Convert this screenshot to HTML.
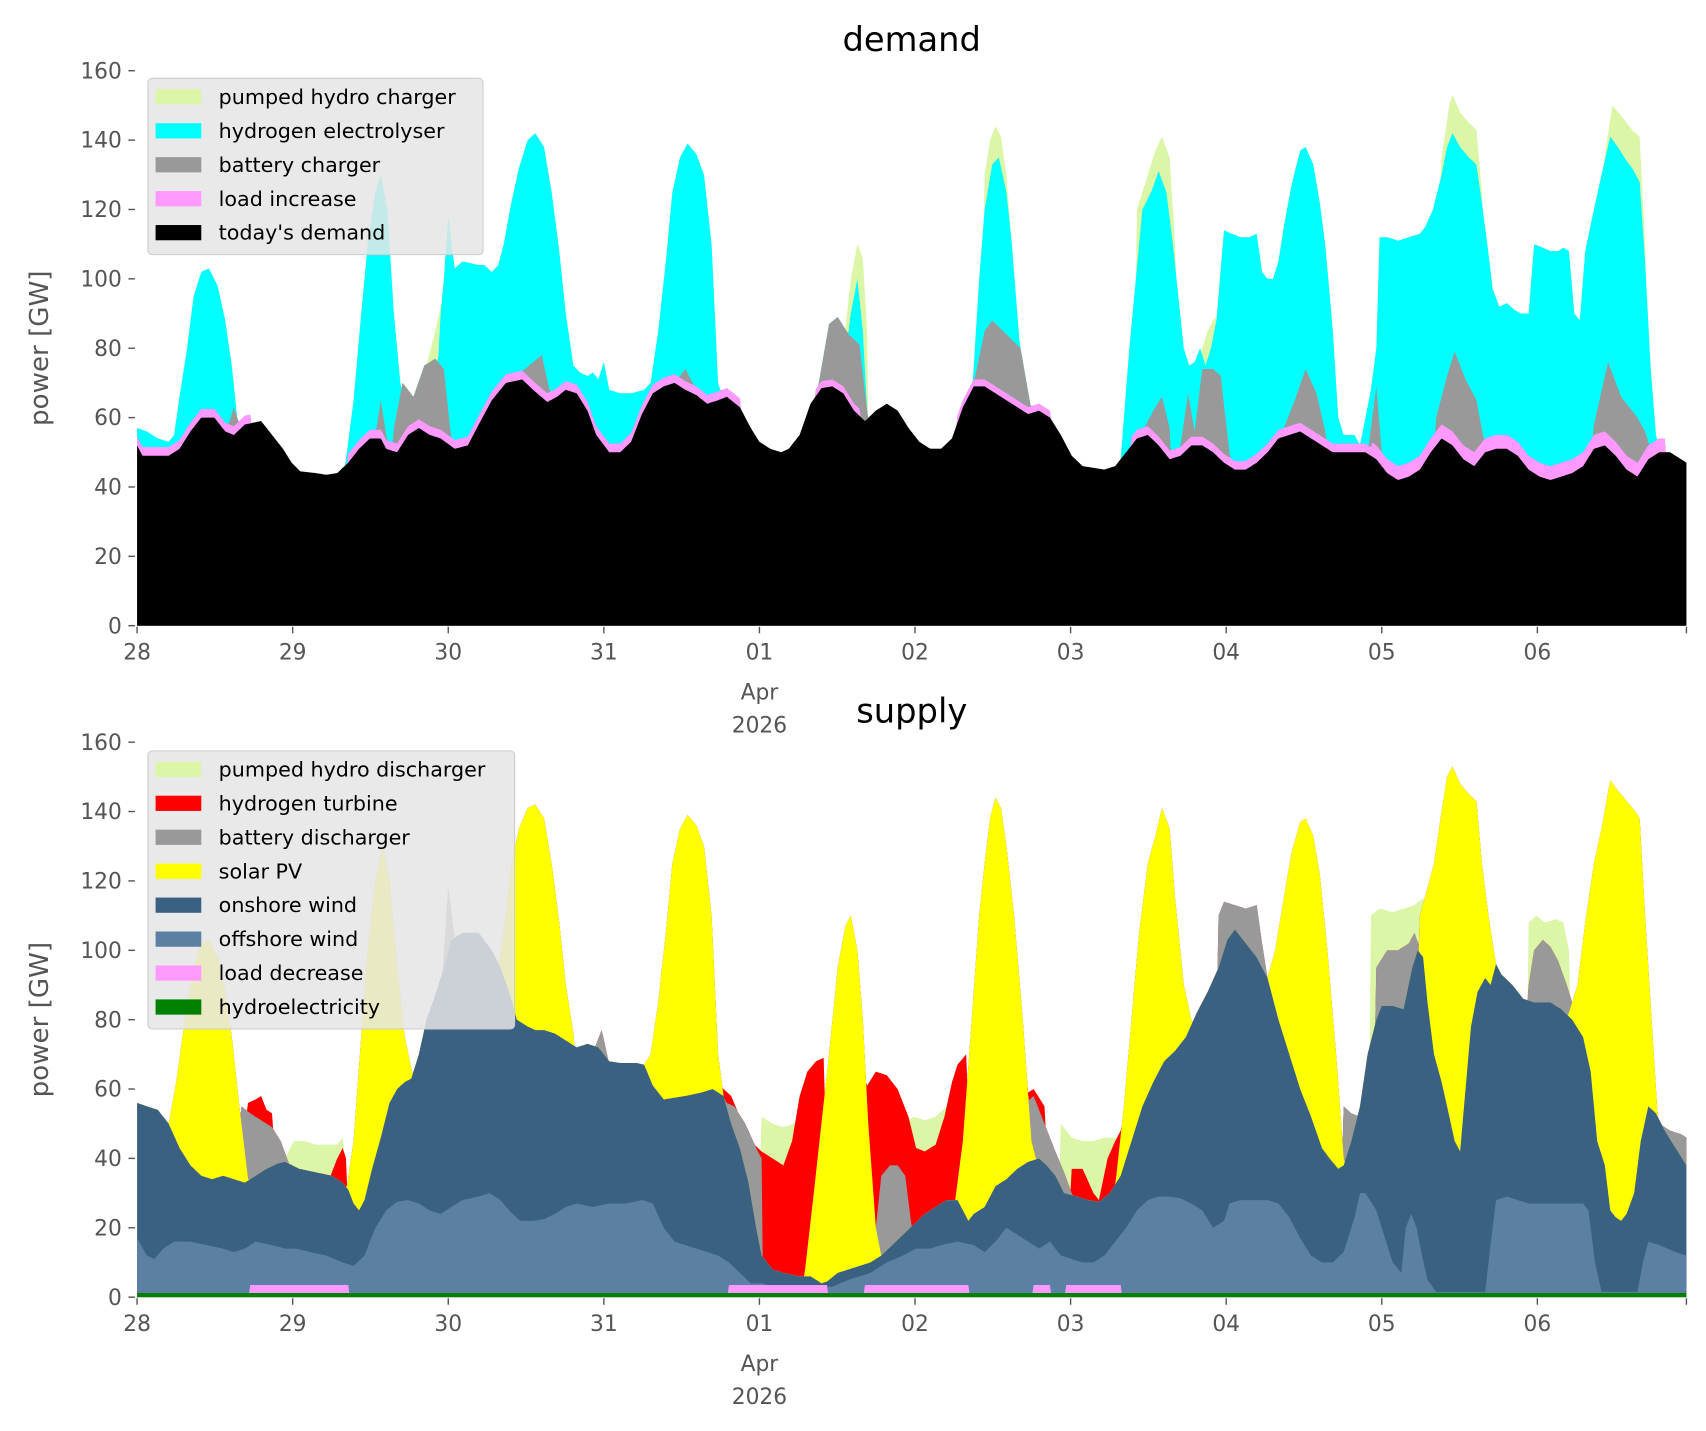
<!DOCTYPE html>
<html><head><meta charset="utf-8"><style>html,body{margin:0;padding:0;background:#fff}svg{display:block}</style></head>
<body>
<svg id="s" xmlns="http://www.w3.org/2000/svg" width="1706" height="1431" viewBox="0 0 1568 1315" preserveAspectRatio="none" font-family="'DejaVu Sans','Liberation Sans',sans-serif">
<rect width="1568" height="1315" fill="#fff"/>
<g id="g1"></g><g id="g2"></g>
<g id="ax"></g>
</svg>
<script>
const NS="http://www.w3.org/2000/svg";
function el(p,t,a,txt){const e=document.createElementNS(NS,t);for(const k in a)e.setAttribute(k,a[k]);if(txt!==undefined)e.textContent=txt;p.appendChild(e);return e;}
function interp(pts,x){if(x<=pts[0][0])return pts[0][1];for(let i=1;i<pts.length;i++){if(x<=pts[i][0]){const a=pts[i-1],b=pts[i];return a[1]+(b[1]-a[1])*(x-a[0])/(b[0]-a[0]);}}return pts[pts.length-1][1];}
function segVal(segs,x){let v=-1e9;for(const s of segs){if(x>=s[0][0]&&x<=s[s.length-1][0])v=Math.max(v,interp(s,x));}return v;}
function rng(r,x){for(const q of r){if(x>=q[0]&&x<=q[1])return q[2];}return 0;}
const X0=126,X1=1550;
function draw(g,y0,layers){ // layers: [color, fn]
 const sc=(575-65)/160;
 for(const [c,f] of layers){let d="M"+X0+","+y0;for(let x=X0;x<=X1;x++){d+=" L"+x+","+(y0-f(x)*sc).toFixed(1);}d+=" L"+X1+","+y0+" Z";el(g,"path",{d:d,fill:c});}
}
// ---------- demand ----------
const black=[[126,52],[131,49],[155,49],[165,51],[175,56],[185,60],[197,60],[207,56],[215,55],[225,58],[240,59],[250,55],[260,51],[268,47],[276,44.5],[290,44],[300,43.5],[310,44],[320,47],[330,51],[340,54],[350,54],[355,51],[365,50],[375,55],[385,57],[395,55],[405,54],[418,51],[430,52],[440,58],[452,65],[465,70],[480,71],[490,68],[503,64.5],[512,66],[520,68],[530,67],[540,62],[548,55],[560,50],[570,50],[580,53],[590,61],[600,67],[610,69],[620,70],[630,68],[640,66.5],[650,64],[660,65],[668,66],[680,63],[690,57],[698,53],[708,51],[718,50],[725,51],[735,55],[745,64],[755,68.5],[765,69],[775,67],[785,62],[795,59],[805,62],[815,64],[825,62],[835,57],[845,53],[855,51],[865,51],[875,54],[885,63],[895,69],[905,69],[915,67],[925,65],[935,63],[945,61],[955,62],[965,60],[975,55],[985,49],[995,46],[1005,45.5],[1015,45],[1025,46],[1035,50],[1045,54],[1055,55],[1065,52],[1075,48],[1085,49],[1095,52],[1105,52],[1115,50],[1125,47],[1135,45],[1145,45],[1155,47],[1165,50],[1175,54],[1185,55],[1195,56],[1205,54],[1215,52],[1225,50],[1235,50],[1245,50],[1255,50],[1265,48],[1275,44],[1285,42],[1295,43],[1305,45],[1315,50],[1325,54],[1335,52],[1345,48],[1355,46],[1365,50],[1375,51],[1385,51],[1395,49],[1405,45],[1415,43],[1425,42],[1435,43],[1445,44],[1455,46],[1465,51],[1475,52],[1485,49],[1495,45],[1505,43],[1515,48],[1525,50],[1535,50],[1545,48],[1550,47]];
const pinkR=[[126,230,2.5],[320,680,2.5],[750,790,2],[880,965,2],[1040,1260,2.5],[1260,1530,4]];
const graySegs=[[[208,56],[215,63],[222,56]],[[345,55],[350,65],[356,53]],[[362,57],[370,70],[380,66],[390,75],[400,77],[408,74],[415,53]],[[475,72],[490,76],[498,78],[505,68]],[[620,70],[630,74],[640,68]],[[752,69],[762,87],[770,89],[780,84],[790,81],[797,62]],[[895,70],[905,85],[912,88],[925,84],[938,80],[948,62]],[[1050,56],[1060,62],[1068,66],[1075,57]],[[1085,52],[1092,67],[1098,56]],[[1098,56],[1105,74],[1115,74],[1122,72],[1130,50]],[[1180,57],[1190,65],[1200,74],[1210,67],[1218,56]],[[1258,52],[1265,69],[1270,50]],[[1320,60],[1330,72],[1337,79],[1347,71],[1357,65],[1363,55]],[[1465,58],[1478,76],[1490,66],[1505,60],[1512,56],[1518,50]]];
const cyanSegs=[[[126,57],[135,56],[145,54],[155,53],[160,55],[165,66],[172,80],[178,95],[185,102],[192,103],[200,98],[207,88],[213,75],[218,60]],
[[318,48],[325,65],[332,90],[338,110],[345,125],[350,130],[356,120],[362,90],[368,70],[372,60]],
[[400,60],[405,90],[408,100],[412,118],[418,103],[425,105],[440,104],[445,104],[452,102],[458,104],[463,110],[470,122],[477,132],[485,140],[492,142],[500,138],[507,125],[514,108],[520,90],[527,75],[533,73],[540,72],[545,73],[550,71],[555,76],[560,68],[570,67],[580,67],[592,68],[598,70],[605,85],[612,105],[618,125],[625,135],[632,139],[640,136],[647,130],[654,110],[660,70],[665,65]],
[[775,72],[782,90],[788,100],[793,85],[797,62]],
[[895,75],[900,100],[905,120],[912,133],[918,135],[925,125],[930,110],[935,90],[940,70]],
[[1030,48],[1038,80],[1044,100],[1050,120],[1058,125],[1065,131],[1072,125],[1078,110],[1083,95],[1088,80],[1093,75],[1098,76],[1103,80],[1108,75],[1113,80],[1118,88],[1125,114],[1132,113],[1140,112],[1148,112],[1155,113],[1160,102],[1165,100],[1170,100],[1175,105],[1180,115],[1187,127],[1195,137],[1200,138],[1207,133],[1213,122],[1218,110],[1225,85],[1230,60],[1235,55],[1245,55],[1250,52],[1255,60],[1260,68],[1265,80],[1268,112],[1275,112],[1285,111],[1295,112],[1305,113],[1310,115],[1317,120],[1325,130],[1330,138],[1335,142],[1342,138],[1350,135],[1357,133],[1362,122],[1367,110],[1372,97],[1378,92],[1385,93],[1392,91],[1398,90],[1405,90],[1410,110],[1418,109],[1425,108],[1432,108],[1437,109],[1442,108],[1447,90],[1452,88],[1457,108],[1465,120],[1472,130],[1480,141],[1487,138],[1495,134],[1500,132],[1507,128],[1512,105],[1517,75],[1522,55],[1525,51]]];
const greenSegs=[[[385,62],[392,75],[400,85],[405,92]],[[775,80],[782,100],[788,110],[793,106],[797,85]],[[905,130],[910,140],[915,144],[920,141],[925,130],[935,90],[940,72]],[[1045,120],[1055,130],[1062,137],[1068,141],[1075,135],[1080,110]],[[1105,80],[1110,85],[1117,89],[1122,80]],[[1325,135],[1332,150],[1335,153],[1342,148],[1350,145],[1357,143],[1362,125]],[[1470,125],[1478,142],[1482,150],[1490,147],[1500,143],[1507,141],[1512,110]]];
const dB=x=>interp(black,x), dP=x=>dB(x)+rng(pinkR,x), dG=x=>Math.max(dP(x),segVal(graySegs,x)), dC=x=>Math.max(dG(x),segVal(cyanSegs,x)), dT=x=>Math.max(dC(x),segVal(greenSegs,x));
draw(document.getElementById("g1"),575,[["#dbf6a6",dT],["#00ffff",dC],["#999999",dG],["#ff99ff",dP],["#000000",dB]]);
// ---------- supply ----------
const off=[[126,17],[135,12],[142,11],[150,14],[160,16],[175,16],[190,15],[205,14],[215,13],[225,14],[235,16],[250,15],[262,14],[272,14],[285,13],[300,12],[315,10],[325,9],[335,12],[345,20],[355,25],[365,27.5],[375,28],[385,27],[395,25],[405,24],[415,26],[425,28],[440,29],[450,30],[460,28],[468,25],[478,22],[490,22],[500,22.5],[510,24],[520,26],[530,27],[545,26],[560,27],[575,27],[590,28],[600,27],[610,20],[620,16],[640,14],[660,12],[670,10],[680,7],[690,4],[700,4],[710,3],[720,3.5],[745,3.5],[755,3],[765,3],[780,5],[800,7],[815,10],[830,12],[842,14],[855,14],[865,15],[880,16],[895,15],[905,13],[915,16],[925,20],[935,18],[945,16],[955,14],[965,16],[975,12],[985,11],[995,10],[1005,10],[1015,12],[1025,16],[1035,20],[1045,25],[1055,28],[1065,29],[1075,29],[1085,28.5],[1095,27],[1105,25],[1115,20],[1125,22],[1130,27],[1140,28],[1165,28],[1175,27],[1185,23],[1195,17],[1205,12],[1215,10],[1225,10],[1235,13],[1245,23],[1250,30],[1255,30],[1265,25],[1272,18],[1280,10],[1288,7],[1292,20],[1297,24],[1302,20],[1307,12],[1312,5],[1320,1.5],[1365,1.5],[1370,15],[1375,28],[1385,29],[1395,28],[1405,27],[1455,27],[1460,25],[1466,10],[1472,1.5],[1505,1.5],[1510,10],[1515,16],[1525,15],[1540,13],[1550,12]];
const on=[[126,56],[135,55],[145,54],[155,50],[165,43],[175,38],[185,35],[195,34],[205,35],[215,34],[225,33],[235,35],[245,37],[255,38.5],[262,39],[275,37],[290,36],[305,35],[315,33],[320,31],[325,27],[330,25],[335,28],[342,37],[350,46],[358,56],[365,60],[372,62],[378,63],[385,70],[392,80],[400,87],[408,95],[415,103],[425,105],[440,105],[452,100],[460,95],[468,88],[475,80],[485,78],[492,77],[500,77],[510,76],[520,74],[530,72],[540,73],[550,72],[560,68],[570,67.5],[585,67.5],[592,67],[600,61],[610,57],[620,57.5],[630,58],[645,59],[655,60],[665,58],[672,50],[680,43],[688,33],[695,20],[700,12],[710,8],[720,7],[735,6],[745,6],[755,4],[760,4.5],[770,7],[780,8],[790,9],[800,10],[810,12],[820,15],[830,18],[840,21],[850,24],[860,26],[870,28],[880,28],[890,22],[895,24],[905,26],[915,32],[925,34],[935,37],[945,39],[955,40],[962,38],[970,35],[978,30],[990,29],[1000,28],[1010,27.5],[1020,30],[1030,35],[1040,45],[1050,55],[1060,62],[1070,68],[1080,71],[1090,75],[1100,82],[1110,88],[1120,95],[1128,103],[1135,106],[1145,102],[1155,98],[1165,92],[1175,80],[1185,70],[1195,60],[1205,52],[1215,43],[1222,40],[1230,37],[1235,38],[1242,45],[1250,55],[1257,70],[1265,80],[1270,84],[1280,84],[1290,83],[1298,95],[1303,100],[1308,98],[1312,85],[1318,70],[1325,62],[1330,55],[1337,45],[1342,42],[1347,60],[1352,78],[1358,88],[1365,92],[1370,90],[1375,96],[1380,93],[1390,90],[1400,86],[1410,85],[1425,85],[1435,83],[1445,80],[1455,75],[1462,65],[1468,45],[1475,38],[1480,25],[1485,23],[1490,22],[1495,24],[1502,30],[1508,45],[1515,55],[1522,53],[1530,48],[1540,43],[1550,38]];
const sol=[[[155,50],[162,62],[170,80],[178,95],[185,102],[192,103],[200,98],[207,88],[213,75],[220,55],[228,34]],
[[318,30],[325,45],[332,75],[338,100],[345,120],[352,130],[358,120],[365,95],[372,75],[380,63]],
[[458,95],[465,110],[470,125],[477,135],[485,141],[492,142],[500,138],[507,125],[514,108],[520,90],[527,76]],
[[592,67],[598,70],[605,85],[612,105],[618,125],[625,135],[632,139],[640,136],[647,130],[654,110],[660,70],[665,58]],
[[740,8],[748,30],[755,50],[762,70],[770,95],[777,107],[782,110],[788,100],[793,80],[798,50],[805,20],[810,12]],
[[878,28],[885,45],[892,75],[900,110],[905,125],[910,138],[915,144],[920,141],[925,130],[932,110],[940,80],[948,45],[952,40]],
[[1025,32],[1033,55],[1040,80],[1047,105],[1055,125],[1062,133],[1068,141],[1075,135],[1080,115],[1088,90],[1095,80]],
[[1165,92],[1172,100],[1180,115],[1187,128],[1195,137],[1200,138],[1207,133],[1213,122],[1220,100],[1228,70],[1235,40]],
[[1305,110],[1312,118],[1318,125],[1325,140],[1330,150],[1335,153],[1342,148],[1350,145],[1357,143],[1362,125],[1368,110],[1375,96]],
[[1440,80],[1450,90],[1457,108],[1465,125],[1472,135],[1480,149],[1487,146],[1495,143],[1503,140],[1507,138],[1512,110],[1518,80],[1523,55]]];
const bat=[[[222,55],[230,53],[240,51],[250,49],[258,45],[265,39]],[[405,85],[412,118],[418,103]],[[548,73],[553,77],[558,70]],[[660,60],[668,56],[675,55],[685,50],[695,43],[700,40]],[[800,17],[805,20],[810,35],[818,38],[825,38],[832,35],[838,20]],[[940,55],[950,58],[960,50],[970,42],[978,36],[985,30]],[[1120,110],[1125,114],[1135,113],[1145,112],[1155,113],[1160,102],[1165,92]],[[1235,55],[1242,53],[1250,52]],[[1265,95],[1275,100],[1285,100],[1295,102],[1300,105],[1308,98]],[[1405,90],[1410,100],[1418,103],[1425,101],[1432,97],[1440,90],[1445,85]],[[1525,50],[1535,48],[1545,47],[1550,46]]];
const red=[[[228,56],[235,57],[240,58],[245,54],[250,53]],[[305,36],[310,40],[315,43],[318,40]],[[665,60],[672,58],[680,52],[690,45],[700,42],[710,40],[720,38],[728,45],[735,58],[742,65],[750,68],[757,69]],[[795,60],[805,65],[815,64],[825,60],[835,52],[842,43],[850,42],[860,44],[868,52],[875,62],[880,67],[888,70]],[[940,58],[950,60],[960,55]],[[985,37],[995,37],[1005,30],[1010,28],[1018,40],[1025,45],[1030,48]]];
const pump=[[[262,40],[270,45],[280,45],[290,44],[300,44],[310,44],[315,46]],[[700,52],[710,50],[720,49],[730,50],[740,55],[748,62]],[[830,50],[840,52],[850,51],[860,52],[870,55]],[[975,50],[985,46],[995,45],[1005,45],[1015,46],[1025,46]],[[1260,110],[1268,112],[1280,111],[1290,112],[1300,113],[1308,115]],[[1405,108],[1412,110],[1420,108],[1430,109],[1437,108],[1442,100]]];
const pinkS=[[230,320,2.3],[670,760,2.3],[795,890,2.3],[950,965,2.3],[980,1030,2.3]];
const sH=x=>1.2, sP=x=>1.2+rng(pinkS,x), sO=x=>Math.max(sP(x),interp(off,x)), sN=x=>Math.max(sO(x),interp(on,x)), sS=x=>Math.max(sN(x),segVal(sol,x)), sB=x=>Math.max(sS(x),segVal(bat,x)), sR=x=>Math.max(sB(x),segVal(red,x)), sT=x=>Math.max(sR(x),segVal(pump,x));
draw(document.getElementById("g2"),1192,[["#dbf6a6",sT],["#ff0000",sR],["#999999",sB],["#ffff00",sS],["#3a6082",sN],["#5b80a3",sO],["#ff99ff",sP],["#008000",sH]]);
// ---------- axes ----------
const ax=document.getElementById("ax");
const days=["28","29","30","31","01","02","03","04","05","06"];
for(const [y0,title,ty,legTop,items] of [[575,"demand",47,72,[["#dbf6a6","pumped hydro charger"],["#00ffff","hydrogen electrolyser"],["#999999","battery charger"],["#ff99ff","load increase"],["#000000","today's demand"]]],[1192,"supply",664,690,[["#dbf6a6","pumped hydro discharger"],["#ff0000","hydrogen turbine"],["#999999","battery discharger"],["#ffff00","solar PV"],["#3a6082","onshore wind"],["#5b80a3","offshore wind"],["#ff99ff","load decrease"],["#008000","hydroelectricity"]]]]){
 const sc=(575-65)/160;
 for(let v=0;v<=160;v+=20){const y=y0-v*sc;el(ax,"line",{x1:118,x2:124,y1:y,y2:y,stroke:"#555","stroke-width":1.3});el(ax,"text",{x:112,y:y+7,"text-anchor":"end","font-size":20,fill:"#555"},String(v));}
 for(let k=0;k<=10;k++){const x=k<10?126+143*k:1550;el(ax,"line",{x1:x,x2:x,y1:y0+1,y2:y0+7,stroke:"#555","stroke-width":1.3});if(k<10)el(ax,"text",{x:x,y:y0+31,"text-anchor":"middle","font-size":20,fill:"#555"},days[k]);}
 el(ax,"text",{x:698,y:y0+68,"text-anchor":"middle","font-size":20,fill:"#555"},"Apr");
 el(ax,"text",{x:698,y:y0+98,"text-anchor":"middle","font-size":20,fill:"#555"},"2026");
 el(ax,"text",{x:838,y:ty,"text-anchor":"middle","font-size":31,fill:"#000"},title);
 const cy=y0-255;el(ax,"text",{x:44,y:cy,"text-anchor":"middle","font-size":24,fill:"#555",transform:`rotate(-90 44 ${cy})`},"power [GW]");
 const w=items.length==5?308:337,h=items.length*31.2+6;
 el(ax,"rect",{x:136,y:legTop,width:w,height:h,rx:4,fill:"#e5e5e5","fill-opacity":0.85,stroke:"#cccccc"});
 items.forEach((it,i)=>{const cy2=legTop+17+i*31.2;el(ax,"rect",{x:143,y:cy2-7,width:42,height:14,fill:it[0]});el(ax,"text",{x:201,y:cy2+6.5,"font-size":19,fill:"#000"},it[1]);});
}
</script>
</body></html>
